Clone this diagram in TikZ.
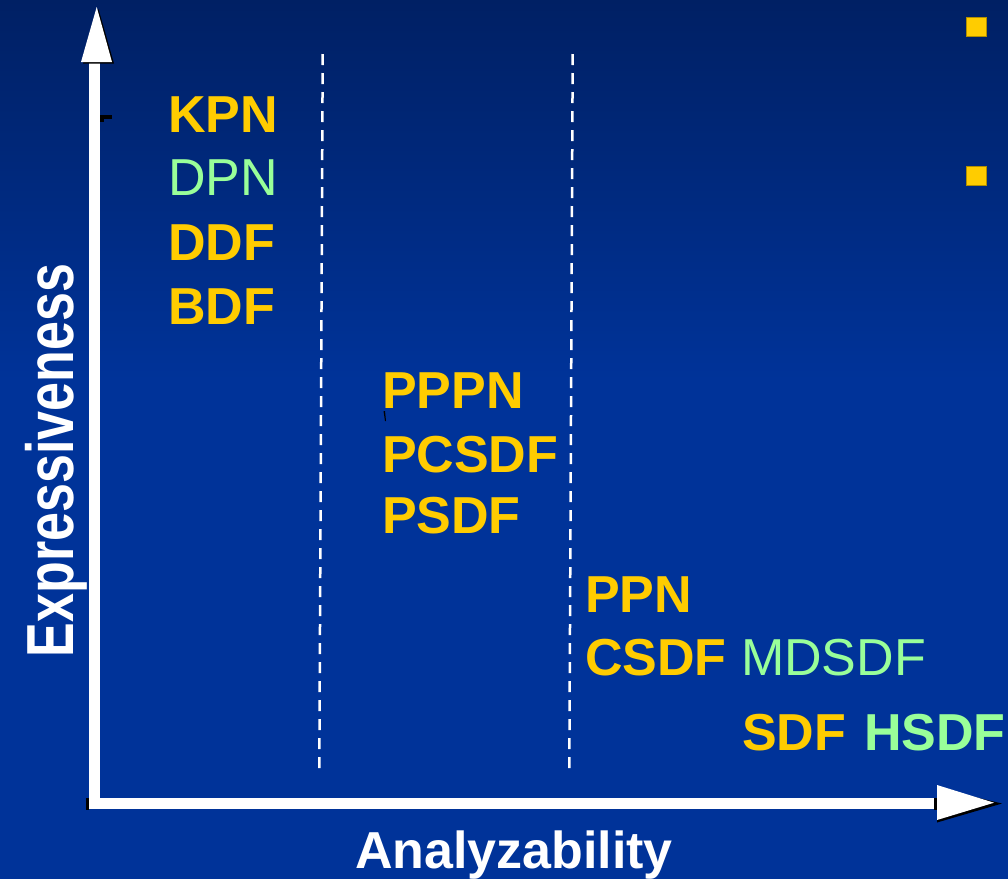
\documentclass[tikz,border=0pt]{standalone}
\usepackage{fontspec}
\setmainfont{Liberation Sans}
\definecolor{bgtop}{RGB}{0,32,100}
\definecolor{bgbot}{RGB}{0,51,153}
\definecolor{gold}{RGB}{255,204,0}
\definecolor{mint}{RGB}{153,255,153}
\tikzset{
  lbl/.style={anchor=base west, inner sep=0pt, outer sep=0pt},
  strong/.style={lbl, text=gold, font=\fontsize{52}{60}\selectfont\bfseries},
  strongmint/.style={lbl, text=mint, font=\fontsize{52}{60}\selectfont\bfseries},
  lightmint/.style={lbl, text=mint, font=\fontsize{52}{60}\selectfont},
  axislbl/.style={inner sep=0pt, outer sep=0pt, text=white, font=\fontsize{52}{60}\selectfont\bfseries},
  shaft/.style={draw=white, line width=11.5pt},
  divider/.style={draw=white, line width=2.5pt, dash pattern=on 11pt off 8pt},
  bullet/.style={fill=gold, draw=gold!70!black, line width=0.6pt},
}
\begin{document}
\begin{tikzpicture}[x=1pt,y=-1pt]
% background
\useasboundingbox (0,0) rectangle (1008,879);
\shade[top color=bgtop, bottom color=bgbot] (0,0) rectangle (1008,380);
\fill[bgbot] (0,379) rectangle (1008,879);

% axes
\coordinate (O) at (94.7,803.5);
\coordinate (ytip) at (94.7,62);
\coordinate (xtip) at (936,803.5);
\draw[shaft] (O) -- (ytip);
\draw[shaft] ([xshift=-5.75pt]O) -- (xtip);
\fill[black] (86,797.5) rectangle (89,809.5);
\fill[black] (934,797.5) rectangle (937,809.5);
\fill[black] (100,115) rectangle (112,119);
\fill[black] (100,119) rectangle (104,122);
% arrow heads with drop shadow
\fill[black] (83,63.5) -- (114,63.5) -- (98.5,9) -- cycle;
\fill[white] (81,62) -- (112,62) -- (96.7,7) -- cycle;
\fill[black] (937,788) -- (937,822.5) -- (1002,803.5) -- cycle;
\fill[white] (937,785) -- (937,820) -- (994,802.7) -- cycle;

% dividers
\coordinate (d1a) at (322.7,54);
\coordinate (d1b) at (319.3,774);
\coordinate (d2a) at (572.7,54);
\coordinate (d2b) at (569.3,774);
\draw[divider] (d1a) -- (d1b);
\draw[divider] (d2a) -- (d2b);

% bullets
\filldraw[bullet] (966,17) rectangle (986,36);
\filldraw[bullet] (966,166) rectangle (986,185);

% axis labels
\node[axislbl, rotate=90, anchor=base] (ylab) at (73,460.5) {\scalebox{1}[1.28]{Expressiveness}};
\node[axislbl, anchor=base west] (xlab) at (355,868) {Analyzability};

% models of computation, first column
\node[strong] (kpn) at (168,132) {KPN};
\node[lightmint] (dpn) at (168,195) {DPN};
\node[strong] (ddf) at (168,260) {DDF};
\node[strong] (bdf) at (168,324) {BDF};

% second column
\node[strong] (pppn) at (382,408) {PPPN};
\node[strong] (pcsdf) at (382,472) {PCSDF};
\node[strong] (psdf) at (382,533) {PSDF};
\fill[black] (383.5,411) -- (385,411) -- (386,421) -- (385,421) -- cycle;

% third column
\node[strong] (ppn) at (585,612) {PPN};
\node[strong] (csdf) at (585,675) {CSDF};
\node[lightmint] (mdsdf) at (741,675) {MDSDF};
\node[strong] (sdf) at (742,750) {SDF};
\node[strongmint] (hsdf) at (864,750) {HSDF};
\end{tikzpicture}
\end{document}
